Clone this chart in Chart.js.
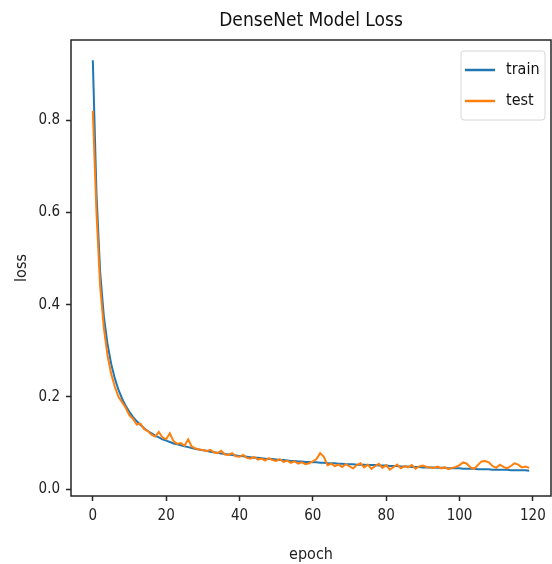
<!DOCTYPE html>
<html>
<head>
<meta charset="utf-8">
<script src="https://cdn.jsdelivr.net/npm/chart.js@4.4.1/dist/chart.umd.min.js"></script>
<style>
    html, body { margin: 0; padding: 0; background: #fff; }
    #graph-container { width: 552px; height: 564px; }
</style>
</head>
<body>
<div id="graph-container">
    <canvas id="lossChart" width="552" height="564"></canvas>
</div>
<script>
// values
const epochs = []
for (let i = 0; i < 120; i++) epochs.push(i)

const train_loss = [
    0.930, 0.640, 0.470, 0.375, 0.315, 0.272, 0.240, 0.215, 0.196, 0.180,
    0.167, 0.156, 0.147, 0.139, 0.132, 0.126, 0.121, 0.116, 0.112, 0.108,
    0.105, 0.102, 0.099, 0.097, 0.095, 0.093, 0.091, 0.089, 0.087, 0.086,
    0.084, 0.083, 0.081, 0.080, 0.079, 0.077, 0.076, 0.075, 0.074, 0.073,
    0.072, 0.071, 0.070, 0.069, 0.068, 0.068, 0.067, 0.066, 0.065, 0.065,
    0.064, 0.063, 0.063, 0.062, 0.061, 0.061, 0.060, 0.060, 0.059, 0.059,
    0.058, 0.058, 0.057, 0.057, 0.056, 0.056, 0.056, 0.055, 0.055, 0.054,
    0.054, 0.054, 0.053, 0.053, 0.053, 0.052, 0.052, 0.052, 0.051, 0.051,
    0.051, 0.050, 0.050, 0.050, 0.049, 0.049, 0.049, 0.048, 0.048, 0.048,
    0.047, 0.047, 0.047, 0.047, 0.046, 0.046, 0.046, 0.045, 0.045, 0.045,
    0.045, 0.044, 0.044, 0.044, 0.044, 0.043, 0.043, 0.043, 0.043, 0.042,
    0.042, 0.042, 0.042, 0.042, 0.041, 0.041, 0.041, 0.041, 0.041, 0.040
]

const test_loss = [
    0.820, 0.600, 0.440, 0.350, 0.290, 0.250, 0.222, 0.200, 0.188, 0.176,
    0.160, 0.152, 0.140, 0.142, 0.130, 0.126, 0.118, 0.114, 0.124, 0.112,
    0.108, 0.121, 0.104, 0.098, 0.100, 0.094, 0.108, 0.092, 0.088, 0.086,
    0.085, 0.082, 0.085, 0.080, 0.078, 0.083, 0.075, 0.074, 0.078, 0.071,
    0.070, 0.074, 0.068, 0.066, 0.070, 0.064, 0.066, 0.062, 0.067, 0.063,
    0.061, 0.065, 0.059, 0.062, 0.057, 0.060, 0.055, 0.058, 0.054, 0.056,
    0.060, 0.065, 0.078, 0.070, 0.052, 0.055, 0.050, 0.053, 0.048, 0.054,
    0.049, 0.045, 0.052, 0.056, 0.047, 0.053, 0.044, 0.050, 0.055, 0.046,
    0.052, 0.042, 0.048, 0.053, 0.045, 0.050, 0.047, 0.052, 0.044, 0.049,
    0.051, 0.048, 0.047, 0.046, 0.049, 0.045, 0.047, 0.043, 0.046, 0.048,
    0.052, 0.058, 0.055, 0.047, 0.044, 0.052, 0.060, 0.061, 0.058, 0.050,
    0.046, 0.053, 0.048, 0.045, 0.050, 0.056, 0.053, 0.047, 0.049, 0.046
]

const x_ticks = [0, 20, 40, 60, 80, 100, 120]
const y_ticks = [0.0, 0.2, 0.4, 0.6, 0.8]

const FONT = "'DejaVu Sans Condensed', 'Liberation Sans Narrow', 'DejaVu Sans', sans-serif"
const INK = '#262626'

// title over the plot area + frame + legend box (matplotlib look)
const mplDecor = {
    id: 'mplDecor',
    afterDraw(chart) {
        const ctx = chart.ctx
        const area = chart.chartArea
        ctx.save()

        // frame
        ctx.strokeStyle = INK
        ctx.lineWidth = 1.5
        ctx.strokeRect(area.left, area.top, area.right - area.left, area.bottom - area.top)

        // title
        ctx.fillStyle = '#111'
        ctx.font = `19px ${FONT}`
        ctx.textAlign = 'center'
        ctx.textBaseline = 'middle'
        ctx.fillText('DenseNet Model Loss', (area.left + area.right) / 2, 21)

        // legend
        let bx = 461, by = 51, bw = 84, bh = 69
        ctx.fillStyle = 'rgba(255,255,255,0.8)'
        ctx.strokeStyle = '#d6d6d6'
        ctx.lineWidth = 1
        ctx.beginPath()
        ctx.roundRect(bx, by, bw, bh, 3)
        ctx.fill()
        ctx.stroke()

        ctx.font = `16px ${FONT}`
        ctx.textAlign = 'left'
        chart.data.datasets.forEach((ds, i) => {
            let yy = 70 + i * 31
            ctx.strokeStyle = ds.borderColor
            ctx.lineWidth = 2.5
            ctx.beginPath()
            ctx.moveTo(465, yy)
            ctx.lineTo(495, yy)
            ctx.stroke()
            ctx.fillStyle = '#111'
            ctx.fillText(ds.label, 506, yy)
        })
        ctx.restore()
    }
}

const ctx = document.querySelector('#lossChart').getContext('2d')

const data = {
    datasets: [
        {
            label: 'train',
            data: epochs.map((e, i) => ({ x: e, y: train_loss[i] })),
            borderColor: '#1f77b4',
            backgroundColor: '#1f77b4',
            borderWidth: 2,
            order: 2
        },
        {
            label: 'test',
            data: epochs.map((e, i) => ({ x: e, y: test_loss[i] })),
            borderColor: '#ff7f0e',
            backgroundColor: '#ff7f0e',
            borderWidth: 2,
            order: 1
        }
    ]
}

const config = {
    type: 'line',
    data: data,
    plugins: [mplDecor],
    options: {
        responsive: false,
        animation: false,
        layout: {
            padding: { top: 40, right: 1, left: 0, bottom: 0 }
        },
        elements: {
            point: { radius: 0 },
            line: { tension: 0 }
        },
        plugins: {
            legend: { display: false },
            tooltip: { enabled: false }
        },
        scales: {
            x: {
                type: 'linear',
                min: -5.95,
                max: 124.95,
                afterBuildTicks: (scale) => {
                    scale.ticks = x_ticks.map(v => ({ value: v }))
                },
                afterFit: (scale) => { scale.height = 68 },
                grid: {
                    drawOnChartArea: false,
                    tickLength: 5,
                    tickColor: INK,
                    tickWidth: 1.5
                },
                border: { display: false },
                ticks: {
                    padding: 6,
                    color: '#222',
                    font: { family: FONT, size: 15 },
                    maxRotation: 0
                },
                title: {
                    display: true,
                    text: 'epoch',
                    color: '#222',
                    font: { family: FONT, size: 16 },
                    padding: { top: 0, bottom: 0 }
                }
            },
            y: {
                min: -0.015,
                max: 0.974,
                afterBuildTicks: (scale) => {
                    scale.ticks = y_ticks.map(v => ({ value: v }))
                },
                afterFit: (scale) => { scale.width = 71 },
                grid: {
                    drawOnChartArea: false,
                    tickLength: 5,
                    tickColor: INK,
                    tickWidth: 1.5
                },
                border: { display: false },
                ticks: {
                    padding: 6,
                    color: '#222',
                    font: { family: FONT, size: 15 },
                    callback: (v) => v.toFixed(1)
                },
                title: {
                    display: true,
                    text: 'loss',
                    color: '#222',
                    font: { family: FONT, size: 16 },
                    padding: { top: 12, bottom: 0 }
                }
            }
        }
    }
}

new Chart(ctx, config)
</script>
</body>
</html>
